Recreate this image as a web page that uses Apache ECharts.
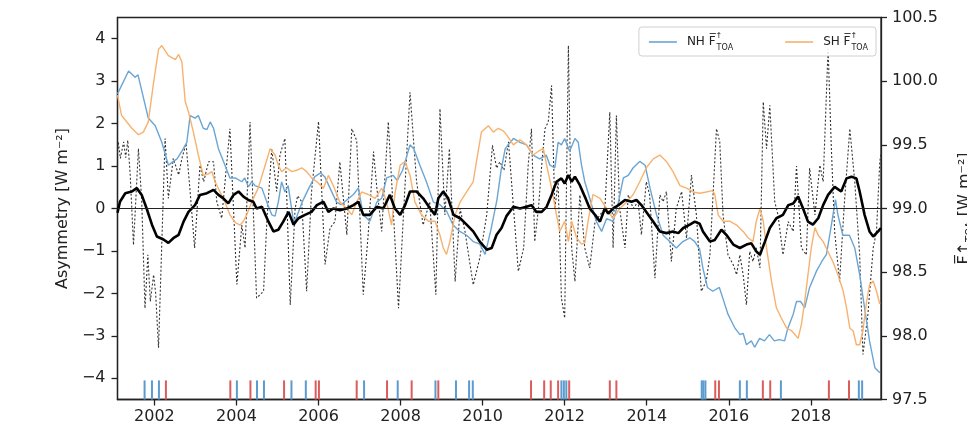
<!DOCTYPE html>
<html>
<head>
<meta charset="utf-8">
<script src="https://cdn.jsdelivr.net/npm/echarts@6/dist/echarts.min.js"></script>
<style>html,body{margin:0;padding:0;background:#fff}#c{width:967px;height:432px}</style>
</head>
<body>
<div id="c"></div>
<script>
// ---- data ----
const xTicks = [2002, 2004, 2006, 2008, 2010, 2012, 2014, 2016, 2018];
const leftTicks = [-4, -3, -2, -1, 0, 1, 2, 3, 4];
const rightTicks = [97.5, 98.0, 98.5, 99.0, 99.5, 100.0, 100.5];

// NH upward TOA flux (right axis, W m-2)
const nhFlux = [[2001.10,99.90],[2001.37,100.08],[2001.53,100.03],[2001.60,100.05],[2001.85,99.71],[2002.02,99.65],[2002.18,99.52],[2002.34,99.34],[2002.46,99.37],[2002.55,99.39],[2002.67,99.45],[2002.79,99.52],[2002.87,99.73],[2002.99,99.71],[2003.07,99.73],[2003.19,99.63],[2003.28,99.62],[2003.36,99.68],[2003.44,99.63],[2003.56,99.47],[2003.72,99.34],[2003.84,99.24],[2003.97,99.24],[2004.13,99.21],[2004.20,99.24],[2004.29,99.17],[2004.37,99.21],[2004.45,99.18],[2004.62,99.16],[2004.74,99.05],[2004.86,98.95],[2004.94,98.94],[2005.02,99.05],[2005.10,99.21],[2005.18,99.13],[2005.26,99.18],[2005.39,98.90],[2005.45,98.92],[2005.60,99.05],[2005.75,99.15],[2005.91,99.25],[2006.05,99.28],[2006.15,99.25],[2006.28,99.16],[2006.44,99.05],[2006.55,99.03],[2006.85,99.11],[2006.97,99.16],[2007.09,98.95],[2007.25,98.90],[2007.42,99.05],[2007.54,99.08],[2007.66,99.24],[2007.82,99.26],[2007.92,99.22],[2008.05,99.30],[2008.23,99.50],[2008.32,99.47],[2008.47,99.34],[2008.63,99.21],[2008.80,99.05],[2008.96,99.03],[2009.12,98.98],[2009.28,98.87],[2009.44,98.82],[2009.61,98.79],[2009.77,98.74],[2009.93,98.72],[2010.06,98.64],[2010.20,98.83],[2010.35,99.07],[2010.45,99.30],[2010.55,99.47],[2010.75,99.55],[2010.91,99.52],[2011.07,99.50],[2011.23,99.42],[2011.39,99.39],[2011.55,99.42],[2011.64,99.34],[2011.76,99.32],[2011.84,99.52],[2011.92,99.50],[2012.00,99.55],[2012.12,99.45],[2012.25,99.55],[2012.33,99.52],[2012.41,99.34],[2012.49,99.21],[2012.61,99.08],[2012.77,98.90],[2012.90,98.82],[2013.02,98.92],[2013.18,98.90],[2013.31,99.05],[2013.43,99.24],[2013.55,99.26],[2013.67,99.32],[2013.83,99.37],[2013.96,99.34],[2014.08,99.16],[2014.24,98.95],[2014.40,98.79],[2014.56,98.74],[2014.72,98.69],[2014.88,98.74],[2015.05,98.77],[2015.17,98.74],[2015.29,98.68],[2015.37,98.53],[2015.48,98.38],[2015.61,98.35],[2015.77,98.38],[2015.85,98.30],[2015.98,98.17],[2016.15,98.06],[2016.27,98.01],[2016.35,98.02],[2016.43,97.93],[2016.55,97.96],[2016.63,97.91],[2016.75,97.98],[2016.87,97.96],[2016.99,98.01],[2017.11,97.96],[2017.23,97.97],[2017.36,97.96],[2017.44,98.06],[2017.57,98.17],[2017.65,98.27],[2017.75,98.27],[2017.85,98.22],[2017.97,98.38],[2018.14,98.51],[2018.26,98.58],[2018.38,98.64],[2018.46,98.79],[2018.54,98.95],[2018.60,99.07],[2018.66,98.95],[2018.78,98.79],[2018.94,98.79],[2019.07,98.69],[2019.19,98.48],[2019.31,98.22],[2019.43,97.96],[2019.56,97.75],[2019.68,97.71]];

// SH upward TOA flux (right axis, W m-2)
const shFlux = [[2001.10,99.89],[2001.20,99.73],[2001.45,99.63],[2001.61,99.58],[2001.73,99.60],[2001.85,99.68],[2001.98,99.99],[2002.10,100.25],[2002.18,100.28],[2002.34,100.20],[2002.51,100.17],[2002.59,100.21],[2002.67,100.15],[2002.75,99.84],[2002.83,99.76],[2002.95,99.60],[2003.07,99.42],[2003.19,99.26],[2003.30,99.27],[2003.40,99.29],[2003.48,99.21],[2003.60,99.13],[2003.72,99.05],[2003.84,98.95],[2003.97,98.89],[2004.09,98.87],[2004.17,98.90],[2004.25,98.95],[2004.37,99.05],[2004.53,99.16],[2004.70,99.34],[2004.82,99.47],[2004.94,99.42],[2005.02,99.34],[2005.10,99.29],[2005.22,99.32],[2005.35,99.29],[2005.47,99.30],[2005.59,99.32],[2005.71,99.29],[2005.83,99.24],[2005.96,99.21],[2006.12,99.16],[2006.24,99.26],[2006.36,99.18],[2006.52,99.05],[2006.69,99.00],[2006.81,98.95],[2006.93,99.05],[2007.05,99.13],[2007.21,99.11],[2007.38,99.08],[2007.54,99.16],[2007.66,99.05],[2007.78,98.87],[2007.86,99.11],[2007.99,99.34],[2008.11,99.37],[2008.23,99.26],[2008.35,99.05],[2008.51,98.95],[2008.68,98.90],[2008.84,98.90],[2008.96,98.79],[2009.04,98.69],[2009.12,98.64],[2009.20,98.74],[2009.33,98.95],[2009.45,99.05],[2009.61,99.13],[2009.77,99.21],[2009.85,99.37],[2009.97,99.60],[2010.14,99.65],[2010.26,99.60],[2010.38,99.63],[2010.50,99.61],[2010.58,99.58],[2010.75,99.50],[2010.91,99.54],[2011.07,99.50],[2011.23,99.42],[2011.36,99.45],[2011.48,99.47],[2011.56,99.34],[2011.68,99.16],[2011.80,98.95],[2011.88,98.82],[2012.00,98.90],[2012.09,98.74],[2012.17,98.90],[2012.29,98.77],[2012.41,98.72],[2012.49,98.73],[2012.57,98.90],[2012.69,99.11],[2012.86,99.08],[2013.02,99.00],[2013.18,98.92],[2013.34,99.00],[2013.51,99.05],[2013.67,99.11],[2013.83,99.21],[2013.99,99.32],[2014.16,99.39],[2014.32,99.42],[2014.48,99.37],[2014.64,99.29],[2014.81,99.18],[2014.97,99.16],[2015.13,99.13],[2015.29,99.12],[2015.45,99.13],[2015.60,99.14],[2015.66,99.11],[2015.74,98.95],[2015.86,98.90],[2016.02,98.90],[2016.19,98.87],[2016.35,98.82],[2016.47,98.77],[2016.59,98.74],[2016.67,98.90],[2016.76,99.00],[2016.84,98.90],[2016.92,98.69],[2017.04,98.43],[2017.16,98.22],[2017.28,98.14],[2017.41,98.06],[2017.53,98.04],[2017.61,98.01],[2017.69,97.98],[2017.77,98.09],[2017.85,98.27],[2017.93,98.48],[2018.01,98.69],[2018.10,98.85],[2018.18,98.79],[2018.30,98.74],[2018.42,98.66],[2018.54,98.58],[2018.66,98.48],[2018.79,98.35],[2018.87,98.22],[2018.95,98.06],[2019.03,98.04],[2019.11,97.93],[2019.19,97.93],[2019.27,98.04],[2019.35,98.25],[2019.43,98.40],[2019.52,98.43],[2019.60,98.35],[2019.68,98.25]];

// Monthly hemispheric asymmetry (left axis, W m-2)
const asymMonthly = [[2001.10,1.3],[2001.12,1.57],[2001.17,1.18],[2001.25,1.57],[2001.30,1.2],[2001.35,1.61],[2001.41,0.79],[2001.49,-0.86],[2001.61,1.41],[2001.69,0.2],[2001.77,-2.35],[2001.84,-1.09],[2001.90,-2.19],[2001.98,-1.56],[2002.03,-2.0],[2002.10,-3.28],[2002.26,1.65],[2002.34,0.24],[2002.46,1.18],[2002.59,0.79],[2002.67,1.18],[2002.77,1.53],[2002.87,0.4],[2002.98,-0.93],[2003.11,1.02],[2003.20,0.63],[2003.32,1.10],[2003.44,1.10],[2003.52,0.16],[2003.64,-0.23],[2003.84,1.88],[2004.01,-1.79],[2004.13,-0.39],[2004.21,-0.93],[2004.33,2.04],[2004.49,-2.11],[2004.66,-1.95],[2004.74,-0.31],[2004.86,1.41],[2004.98,0.4],[2005.06,1.26],[2005.18,1.65],[2005.31,-2.27],[2005.43,0.0],[2005.49,0.3],[2005.59,0.16],[2005.71,-1.95],[2005.83,0.4],[2006.00,2.05],[2006.16,-1.32],[2006.28,-0.46],[2006.40,-0.31],[2006.52,1.10],[2006.69,-0.62],[2006.81,1.88],[2006.93,1.6],[2007.09,-2.03],[2007.21,-0.62],[2007.34,1.34],[2007.42,0.5],[2007.54,-0.54],[2007.70,2.04],[2007.82,0.0],[2007.95,-2.35],[2008.07,-0.15],[2008.23,2.74],[2008.39,0.63],[2008.55,-0.39],[2008.71,0.16],[2008.86,-2.03],[2008.96,2.35],[2009.08,-0.15],[2009.19,1.41],[2009.33,-1.72],[2009.45,0.0],[2009.57,-0.54],[2009.77,-1.80],[2009.93,-1.17],[2010.10,-0.15],[2010.24,1.49],[2010.34,0.95],[2010.42,1.1],[2010.52,0.9],[2010.63,1.57],[2010.87,-1.48],[2011.0,-0.93],[2011.11,1.02],[2011.19,1.88],[2011.27,-0.78],[2011.36,0.0],[2011.44,1.02],[2011.52,1.88],[2011.60,2.04],[2011.68,2.9],[2011.76,0.0],[2011.84,0.63],[2011.92,-2.11],[2012.00,-2.58],[2012.09,3.84],[2012.17,-0.93],[2012.25,-1.72],[2012.37,0.32],[2012.49,-0.93],[2012.61,-1.40],[2012.74,-0.31],[2012.86,-0.15],[2012.98,0.0],[2013.10,2.27],[2013.18,-0.93],[2013.26,2.19],[2013.34,0.0],[2013.47,-0.93],[2013.55,0.32],[2013.67,0.0],[2013.79,0.16],[2013.87,-0.62],[2013.99,0.63],[2014.07,0.32],[2014.20,-1.64],[2014.32,0.32],[2014.40,0.16],[2014.48,0.40],[2014.60,-1.25],[2014.72,0.0],[2014.85,0.40],[2014.97,-0.70],[2015.09,0.79],[2015.21,-0.15],[2015.33,-1.95],[2015.45,-1.72],[2015.54,-1.09],[2015.70,1.88],[2015.78,1.57],[2015.86,-0.15],[2015.98,-1.09],[2016.11,-1.33],[2016.19,-1.56],[2016.27,-1.09],[2016.35,-1.56],[2016.43,-2.27],[2016.51,-1.01],[2016.59,-1.25],[2016.67,-0.93],[2016.76,-1.40],[2016.84,2.51],[2016.92,1.41],[2017.00,2.43],[2017.12,0.16],[2017.20,-0.15],[2017.32,-1.09],[2017.45,-0.31],[2017.57,-0.54],[2017.65,1.0],[2017.77,-0.93],[2017.89,-1.09],[2017.97,0.95],[2018.10,-0.15],[2018.22,1.02],[2018.30,0.63],[2018.42,3.76],[2018.50,1.41],[2018.58,-0.54],[2018.70,-1.72],[2018.82,0.16],[2018.95,1.88],[2019.07,0.63],[2019.19,-1.09],[2019.27,-3.44],[2019.39,-2.5],[2019.52,-0.93],[2019.60,-0.54],[2019.68,1.1],[2019.71,1.3]];

// 12-month running mean of asymmetry (left axis)
const asymMean = [[2001.10,-0.10],[2001.16,0.16],[2001.29,0.36],[2001.45,0.40],[2001.57,0.48],[2001.69,0.32],[2001.81,0.00],[2001.94,-0.38],[2002.06,-0.66],[2002.22,-0.73],[2002.34,-0.81],[2002.46,-0.70],[2002.59,-0.62],[2002.71,-0.31],[2002.83,-0.08],[2002.99,0.08],[2003.11,0.32],[2003.28,0.36],[2003.44,0.44],[2003.56,0.32],[2003.68,0.24],[2003.80,0.12],[2003.93,0.32],[2004.05,0.40],[2004.17,0.28],[2004.29,0.20],[2004.41,0.16],[2004.49,0.00],[2004.62,0.04],[2004.78,-0.31],[2004.90,-0.54],[2005.02,-0.50],[2005.14,-0.31],[2005.27,-0.08],[2005.39,-0.38],[2005.51,-0.23],[2005.67,-0.15],[2005.83,-0.08],[2005.96,0.08],[2006.12,0.16],[2006.24,-0.08],[2006.36,0.00],[2006.52,-0.04],[2006.69,0.00],[2006.85,0.08],[2006.97,0.16],[2007.09,-0.15],[2007.25,-0.15],[2007.42,0.04],[2007.58,0.00],[2007.74,0.32],[2007.86,0.00],[2007.99,-0.15],[2008.11,0.08],[2008.23,0.40],[2008.39,0.40],[2008.55,0.24],[2008.72,0.00],[2008.84,-0.15],[2008.92,0.24],[2009.04,0.40],[2009.16,0.24],[2009.29,-0.15],[2009.45,-0.23],[2009.61,-0.38],[2009.77,-0.54],[2009.93,-0.78],[2010.10,-0.97],[2010.22,-0.93],[2010.34,-0.62],[2010.46,-0.46],[2010.58,-0.18],[2010.75,0.04],[2010.91,0.00],[2011.07,0.04],[2011.19,0.08],[2011.31,-0.08],[2011.44,-0.08],[2011.56,0.04],[2011.68,0.32],[2011.80,0.63],[2011.92,0.71],[2012.00,0.59],[2012.09,0.79],[2012.17,0.63],[2012.25,0.75],[2012.37,0.55],[2012.49,0.28],[2012.61,0.00],[2012.74,-0.15],[2012.86,-0.31],[2012.98,0.00],[2013.06,-0.12],[2013.18,0.00],[2013.31,0.08],[2013.47,0.20],[2013.63,0.16],[2013.75,0.20],[2013.87,0.08],[2013.99,-0.08],[2014.16,-0.31],[2014.32,-0.54],[2014.48,-0.58],[2014.64,-0.54],[2014.77,-0.58],[2014.89,-0.46],[2015.05,-0.38],[2015.17,-0.31],[2015.29,-0.36],[2015.37,-0.54],[2015.54,-0.78],[2015.66,-0.74],[2015.82,-0.50],[2015.94,-0.62],[2016.11,-0.85],[2016.27,-0.93],[2016.43,-0.85],[2016.55,-0.82],[2016.67,-1.01],[2016.76,-1.09],[2016.88,-0.78],[2017.00,-0.46],[2017.16,-0.23],[2017.32,-0.15],[2017.45,0.08],[2017.57,0.12],[2017.69,0.28],[2017.81,0.00],[2017.93,-0.31],[2018.05,-0.38],[2018.18,-0.23],[2018.30,0.08],[2018.42,0.32],[2018.58,0.51],[2018.74,0.40],[2018.87,0.71],[2018.99,0.75],[2019.11,0.71],[2019.19,0.40],[2019.31,-0.15],[2019.43,-0.54],[2019.52,-0.66],[2019.64,-0.54],[2019.71,-0.46]];

// event marks along the bottom
const eventsBlue = [2001.76, 2001.94, 2002.11, 2004.01, 2004.50, 2004.67, 2005.34, 2005.69, 2007.11, 2007.93, 2008.85, 2009.35, 2009.67, 2009.76, 2011.92, 2011.98, 2012.04, 2015.34, 2015.38, 2015.43, 2016.27, 2016.44, 2017.27, 2019.17, 2019.25];
const eventsRed = [2002.28, 2003.85, 2004.34, 2005.16, 2005.93, 2006.01, 2006.93, 2007.67, 2008.27, 2008.92, 2011.18, 2011.50, 2011.66, 2011.84, 2012.11, 2013.10, 2013.26, 2015.67, 2015.76, 2016.83, 2017.01, 2018.44, 2018.93];
const rugRange = [-4.5, -4.05];

// ---- chart ----
const FONT = 'DejaVu Sans';
const minusFmt = v => String(v).replace('-', '\u2212');
const chart = echarts.init(document.getElementById('c'), null, {renderer: 'canvas'});

function rugSeries(vals, color) {
  return {
    type: 'custom', yAxisIndex: 0, silent: true, z: 3,
    data: vals.map(v => [v]),
    renderItem: function (params, api) {
      const x = api.value(0);
      const p0 = api.coord([x, rugRange[0]]);
      const p1 = api.coord([x, rugRange[1]]);
      return {type: 'line', shape: {x1: p0[0], y1: p0[1], x2: p1[0], y2: p1[1]},
              style: {stroke: color, lineWidth: 2}};
    }
  };
}

const legendRich = {
  t: {fontFamily: FONT, fontSize: 12, color: '#222', lineHeight: 20, verticalAlign: 'middle'},
  s: {fontFamily: FONT, fontSize: 8, color: '#222', lineHeight: 8, verticalAlign: 'top', width: 1},
  b: {fontFamily: FONT, fontSize: 8, color: '#222', lineHeight: 8, verticalAlign: 'bottom'}
};

chart.setOption({
  animation: false,
  backgroundColor: '#fff',
  grid: {left: 117.5, right: 86, top: 17.5, bottom: 32.5, containLabel: false, outerBoundsMode: 'none',
         show: true, borderColor: '#222', borderWidth: 1.3, backgroundColor: 'transparent'},
  legend: {
    show: true, right: 91, top: 27,
    data: [{name: 'NH', icon: 'rect'}, {name: 'SH', icon: 'rect'}],
    itemWidth: 28, itemHeight: 1.6, itemGap: 52,
    borderColor: '#d0d0d0', borderWidth: 1, borderRadius: 3,
    padding: [5, 8, 4, 10], backgroundColor: 'rgba(255,255,255,0.85)',
    formatter: function (name) { return '{t|' + name + ' F\u0305}{s|\u2191}{b|TOA}'; },
    textStyle: {rich: legendRich, padding: [0, 0, 0, 5]}
  },
  xAxis: {
    type: 'value', min: 2001.1, max: 2019.71,
    axisLine: {onZero: false, lineStyle: {color: '#222', width: 1.3}},
    axisTick: {show: true, length: 6, customValues: xTicks, lineStyle: {color: '#222', width: 1.3}},
    axisLabel: {customValues: xTicks, fontFamily: FONT, fontSize: 16, color: '#222', margin: 9, formatter: v => String(v)},
    splitLine: {show: false}
  },
  yAxis: [{
    type: 'value', min: -4.5, max: 4.5, position: 'left',
    name: 'Asymmetry [W m\u207B\u00B2]', nameLocation: 'middle', nameGap: 47, nameRotate: 90,
    nameTextStyle: {fontFamily: FONT, fontSize: 16, color: '#222'},
    axisLine: {show: true, lineStyle: {color: '#222', width: 1.3}},
    axisTick: {show: true, length: 6, customValues: leftTicks, lineStyle: {color: '#222', width: 1.3}},
    axisLabel: {customValues: leftTicks, fontFamily: FONT, fontSize: 16, color: '#222', margin: 12, formatter: minusFmt},
    splitLine: {show: false}
  }, {
    type: 'value', min: 97.5, max: 100.5, position: 'right',
    name: '{f|F\u0305\u2191}{b|TOA} {f|[W m\u207B\u00B2]}', nameLocation: 'middle', nameGap: 74, nameRotate: 90,
    nameTextStyle: {fontFamily: FONT, fontSize: 16, color: '#222', rich: {
      f: {fontFamily: FONT, fontSize: 16, color: '#222', lineHeight: 20},
      b: {fontFamily: FONT, fontSize: 10, color: '#222', lineHeight: 10, verticalAlign: 'bottom'}
    }},
    axisLine: {show: true, lineStyle: {color: '#222', width: 1.3}},
    axisTick: {show: true, length: 6, customValues: rightTicks, lineStyle: {color: '#222', width: 1.3}},
    axisLabel: {customValues: rightTicks, fontFamily: FONT, fontSize: 16, color: '#222', margin: 11, formatter: v => v.toFixed(1)},
    splitLine: {show: false}
  }],
  series: [
    {
      name: 'asym', type: 'line', yAxisIndex: 0, data: asymMonthly, showSymbol: false, symbol: 'none', silent: true, z: 2,
      lineStyle: {color: '#333', width: 1.1, type: [2, 2]}
    },
    {
      name: 'NH', type: 'line', yAxisIndex: 1, data: nhFlux, showSymbol: false, symbol: 'none', z: 3,
      color: '#6aa5d4', lineStyle: {color: '#6aa5d4', width: 1.4}
    },
    {
      name: 'SH', type: 'line', yAxisIndex: 1, data: shFlux, showSymbol: false, symbol: 'none', z: 3,
      color: '#f7b26f', lineStyle: {color: '#f7b26f', width: 1.4}
    },
    {
      name: 'mean', type: 'line', yAxisIndex: 0, data: asymMean, showSymbol: false, symbol: 'none', silent: true, z: 4,
      lineStyle: {color: '#000', width: 2.6},
      markLine: {silent: true, symbol: 'none', label: {show: false}, data: [{yAxis: 0}],
                 lineStyle: {color: '#222', width: 1, type: 'solid'}}
    },
    rugSeries(eventsBlue, '#5b9bd0'),
    rugSeries(eventsRed, '#dc5c5c')
  ]
});
</script>
</body>
</html>
